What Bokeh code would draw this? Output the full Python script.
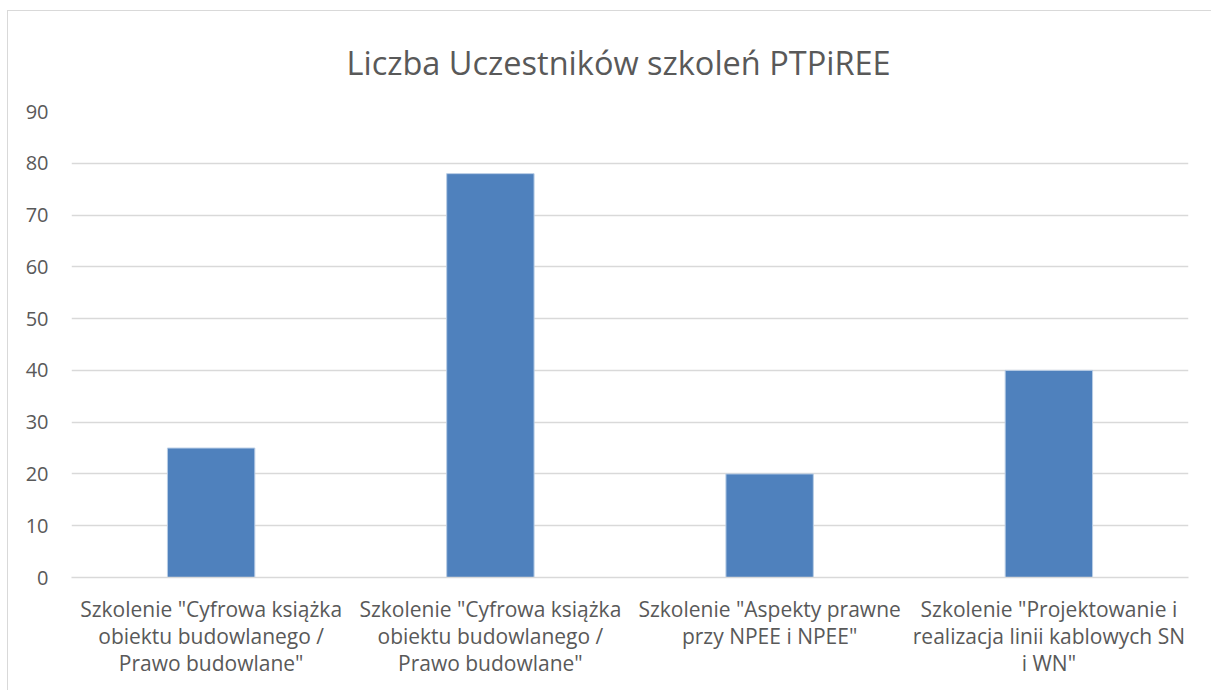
from bokeh.plotting import figure
from bokeh.models import FixedTicker, Title, ColumnDataSource, Range1d
from bokeh.embed import file_html
from bokeh.resources import INLINE

title_text = "Liczba Uczestników szkoleń PTPiREE"
categories = [
    'Szkolenie "Cyfrowa książka\nobiektu budowlanego /\nPrawo budowlane"',
    'Szkolenie "Cyfrowa książka\nobiektu budowlanego /\nPrawo budowlane"',
    'Szkolenie "Aspekty prawne\nprzy NPEE i NPEE"',
    'Szkolenie "Projektowanie i\nrealizacja linii kablowych SN\ni WN"',
]
participants = [25, 78, 20, 40]
y_ticks = [0, 10, 20, 30, 40, 50, 60, 70, 80, 90]

FONT = "Open Sans"
TXT = "#595959"
GRID = "#d9d9d9"

positions = [i + 0.5 for i in range(len(categories))]
src = ColumnDataSource(dict(x=positions, top=participants))

p = figure(width=1204, height=680, output_backend="svg", toolbar_location=None,
           x_range=Range1d(0, len(categories)), y_range=Range1d(0, 90),
           min_border_left=63, min_border_right=24, min_border_top=98,
           min_border_bottom=114, title=None)
p.styles = {"margin-left": "7px", "margin-top": "10px",
            "border-top": "1px solid #d9d9d9", "border-left": "1px solid #d9d9d9"}
p.outline_line_color = None
p.background_fill_color = "white"
p.border_fill_color = "white"

p.vbar(x="x", top="top", width=0.313, bottom=0, source=src,
       fill_color="#4f81bd", line_color="#b9cde5", line_width=1)

# y axis
p.yaxis.ticker = FixedTicker(ticks=y_ticks)
p.yaxis.axis_line_color = None
p.yaxis.major_tick_line_color = None
p.yaxis.minor_tick_line_color = None
p.yaxis.major_label_text_font = FONT
p.yaxis.major_label_text_font_size = "20px"
p.yaxis.major_label_text_color = TXT
p.yaxis.major_label_standoff = 17
p.ygrid.grid_line_color = GRID
p.ygrid.grid_line_width = 1.5

# x axis
p.xaxis.ticker = FixedTicker(ticks=positions)
p.xaxis.major_label_overrides = {pos: lab for pos, lab in zip(positions, categories)}
p.xaxis.axis_line_color = GRID
p.xaxis.axis_line_width = 1.5
p.xaxis.major_tick_line_color = None
p.xaxis.minor_tick_line_color = None
p.xaxis.major_label_text_font = FONT
p.xaxis.major_label_text_font_size = "21px"
p.xaxis.major_label_text_color = TXT
p.xaxis.major_label_text_line_height = 0.97
p.xaxis.major_label_standoff = 11
p.xgrid.grid_line_color = None

p.add_layout(Title(text=title_text, align="left", offset=275, standoff=53,
                   text_font=FONT, text_font_size="32.5px", text_font_style="normal",
                   text_color=TXT), "above")

open("out.html", "w").write(file_html(p, INLINE))
